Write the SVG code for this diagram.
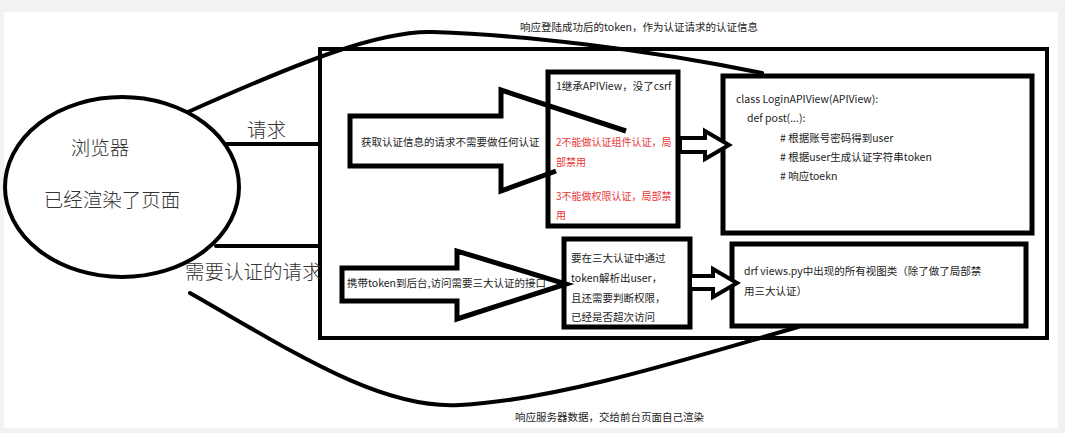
<svg xmlns="http://www.w3.org/2000/svg" width="1065" height="433" viewBox="0 0 1065 433">
<style>
.t{font-family:"Microsoft YaHei","Noto Sans CJK SC",sans-serif;font-size:10.5px;fill:#222}
.big{font-family:"Microsoft YaHei","Noto Sans CJK SC",sans-serif;font-size:19.5px;fill:#333;font-weight:300}
.red{fill:#e8363a;font-size:10px}
.box{fill:#fff;stroke:#000;stroke-width:5}
.ln{fill:none;stroke:#000;stroke-width:4;stroke-linecap:round}
.arr{fill:none;stroke:#000;stroke-width:5;stroke-linejoin:miter}
.sarr{fill:#fff;stroke:#000;stroke-width:4;stroke-linejoin:miter}
</style>
<rect x="0" y="0" width="1065" height="433" fill="#f2f2f2"/>
<rect x="4" y="12" width="1054" height="416" fill="#fff"/>

<g id="server">
<rect x="320" y="49" width="727" height="289" fill="#fff" stroke="#000" stroke-width="4"/>
</g>

<g id="browser">
<ellipse cx="122" cy="187" rx="117" ry="90" fill="#fff" stroke="#000" stroke-width="4"/>
<text class="big" x="100" y="155" text-anchor="middle">浏览器</text>
<text class="big" x="112" y="207" text-anchor="middle">已经渲染了页面</text>
</g>

<g id="box-login-rules">
<rect class="box" x="548" y="72" width="130" height="154"/>
<text class="t" x="556" y="90">1继承APIView，没了csrf</text>
<text class="t red" x="556" y="146">2不能做认证组件认证，局</text>
<text class="t red" x="556" y="166">部禁用</text>
<text class="t red" x="556" y="200">3不能做权限认证，局部禁</text>
<text class="t red" x="556" y="219">用</text>
</g>

<g id="box-login-view">
<rect class="box" x="723" y="76" width="309" height="157"/>
<text class="t" x="736" y="103">class LoginAPIView(APIView):</text>
<text class="t" x="747" y="122">def post(...):</text>
<text class="t" x="780" y="142"># 根据账号密码得到user</text>
<text class="t" x="780" y="161"># 根据user生成认证字符串token</text>
<text class="t" x="780" y="180"># 响应toekn</text>
</g>

<g id="box-auth">
<rect class="box" x="564" y="239" width="126" height="88"/>
<text class="t" x="571" y="262">要在三大认证中通过</text>
<text class="t" x="571" y="282">token解析出user，</text>
<text class="t" x="571" y="302">且还需要判断权限，</text>
<text class="t" x="571" y="321">已经是否超次访问</text>
</g>

<g id="box-views">
<rect class="box" x="732" y="244" width="294" height="82"/>
<text class="t" x="744" y="275">drf views.py中出现的所有视图类（除了做了局部禁</text>
<text class="t" x="744" y="295">用三大认证）</text>
</g>

<g id="arrow-login">
<path class="arr" d="M626,131 L501,90 L501,116 L350,116 L350,166 L501,166 L501,191 L556,171"/>
<text class="t" x="361" y="146">获取认证信息的请求不需要做任何认证</text>
</g>

<g id="arrow-token">
<path class="arr" d="M342,268 L457,268 L457,251 L566,284 L457,319 L457,301 L342,301 Z"/>
<text class="t" x="347" y="287">携带token到后台,访问需要三大认证的接口</text>
</g>

<g id="connectors">
<path class="ln" d="M188,112 C300,62 380,30 433,32 C520,35 640,48 762,73"/>
<path class="ln" d="M190,293 C290,350 380,410 460,405 C560,400 700,355 798,327"/>
<line class="ln" x1="226" y1="144" x2="320" y2="144" stroke-linecap="butt"/>
<line class="ln" x1="216" y1="246" x2="320" y2="246" stroke-linecap="butt"/>
<path class="sarr" d="M680,138 L705,138 L705,131 L729,145 L705,159 L705,152 L680,152 Z"/>
<path class="sarr" d="M690,276 L713,276 L713,269 L737,283 L713,297 L713,289 L690,289 Z"/>
</g>

<g id="labels">
<text class="big" x="247" y="137">请求</text>
<text class="big" x="185" y="279">需要认证的请求</text>
<text class="t" x="520" y="31">响应登陆成功后的token，作为认证请求的认证信息</text>
<text class="t" x="515" y="421">响应服务器数据，交给前台页面自己渲染</text>
</g>
</svg>
